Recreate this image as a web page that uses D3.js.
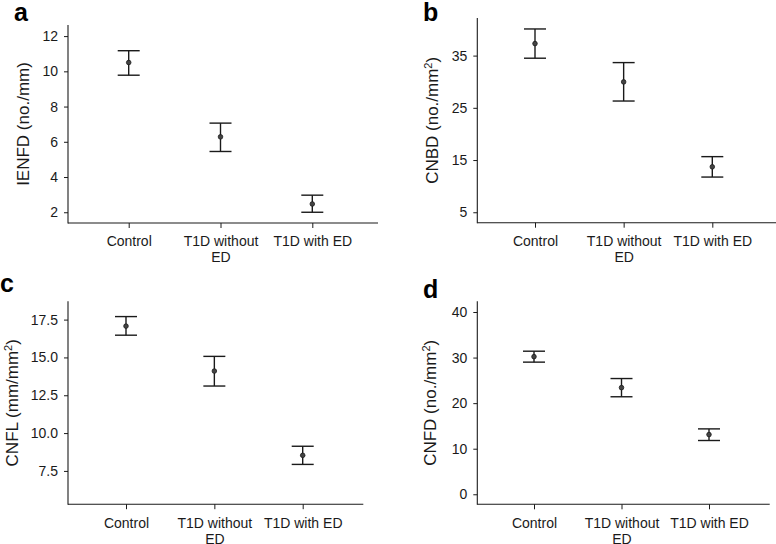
<!DOCTYPE html>
<html>
<head>
<meta charset="utf-8">
<script src="https://cdn.jsdelivr.net/npm/d3@7"></script>
<style>
  html, body { margin: 0; padding: 0; background: #fff; }
  svg { display: block; font-family: "Liberation Sans", Arial, Helvetica, sans-serif; }
</style>
</head>
<body>
<svg id="chart" width="776" height="544"></svg>
<script>
// ---- Data ----
const categories = ["Control", "T1D without ED", "T1D with ED"];
const categoryLines = [["Control"], ["T1D without", "ED"], ["T1D with ED"]];

const ienfdMean = [10.5, 6.28, 2.47];
const ienfdLow  = [9.78, 5.45, 2.0];
const ienfdHigh = [11.17, 7.06, 2.97];
const ienfdTicks = [2, 4, 6, 8, 10, 12];

const cnbdMean = [37.3, 29.96, 13.7];
const cnbdLow  = [34.5, 26.3, 11.74];
const cnbdHigh = [40.1, 33.66, 15.65];
const cnbdTicks = [5, 15, 25, 35];

const cnflMean = [17.07, 14.1, 8.53];
const cnflLow  = [16.47, 13.11, 7.93];
const cnflHigh = [17.7, 15.07, 9.13];
const cnflTicks = [7.5, 10.0, 12.5, 15.0, 17.5];

const cnfdMean = [30.2, 23.4, 13.1];
const cnfdLow  = [29.0, 21.4, 11.8];
const cnfdHigh = [31.4, 25.4, 14.35];
const cnfdTicks = [0, 10, 20, 30, 40];

// ---- Panel layout ----
const panels = [
  { letter: "a", lx: 14, ly: 21, title: ["IENFD (no./mm)"], tx: 23,
    left: 68, right: 378, top: 25, bottom: 223, x0: 128.7, x1: 312.3,
    domain: [1.39, 12.63], ticks: ienfdTicks, fmt: d3.format("d"),
    mean: ienfdMean, lo: ienfdLow, hi: ienfdHigh },
  { letter: "b", lx: 423, ly: 21, title: ["CNBD (no./mm", "2", ")"], tx: 432,
    left: 477.3, right: 776, top: 18, bottom: 222.7, x0: 535, x1: 712.3,
    domain: [3.0, 42.2], ticks: cnbdTicks, fmt: d3.format("d"),
    mean: cnbdMean, lo: cnbdLow, hi: cnbdHigh },
  { letter: "c", lx: 0, ly: 292, title: ["CNFL (mm/mm", "2", ")"], tx: 12,
    left: 68, right: 363.3, top: 301.3, bottom: 504.2, x0: 126, x1: 302.7,
    domain: [5.3, 18.71], ticks: cnflTicks, fmt: d3.format(".1f"),
    mean: cnflMean, lo: cnflLow, hi: cnflHigh },
  { letter: "d", lx: 423, ly: 298, title: ["CNFD (no./mm", "2", ")"], tx: 430,
    left: 477.3, right: 769.7, top: 301.3, bottom: 504.3, x0: 534, x1: 709,
    domain: [-2.2, 42.35], ticks: cnfdTicks, fmt: d3.format("d"),
    mean: cnfdMean, lo: cnfdLow, hi: cnfdHigh }
];

const svg = d3.select("#chart");
const ink = "#1a1a1a";
const capHalf = 11;

panels.forEach(p => {
  const g = svg.append("g");
  const x = d3.scalePoint().domain(categories).range([p.x0, p.x1]);
  const y = d3.scaleLinear().domain(p.domain).range([p.bottom, p.top]);

  // Y axis
  const ya = g.append("g").attr("transform", `translate(${p.left},0)`)
    .call(d3.axisLeft(y).tickValues(p.ticks).tickFormat(p.fmt).tickSize(4).tickPadding(6));
  ya.select(".domain").remove();
  ya.selectAll(".tick line").attr("stroke", ink).attr("stroke-width", 1);
  ya.selectAll(".tick text").attr("fill", ink).attr("font-size", 14)
    .attr("font-family", "Liberation Sans, Arial, sans-serif");

  // X axis
  const xa = g.append("g").attr("transform", `translate(0,${p.bottom})`)
    .call(d3.axisBottom(x).tickSize(5).tickPadding(8.5));
  xa.select(".domain").remove();
  xa.selectAll(".tick line").attr("stroke", ink).attr("stroke-width", 1);
  xa.selectAll(".tick text").each(function(d, i) {
    const t = d3.select(this).text(null).attr("fill", ink).attr("font-size", 14)
      .attr("font-family", "Liberation Sans, Arial, sans-serif");
    categoryLines[i].forEach((ln, k) => {
      t.append("tspan").attr("x", 0).attr("dy", k === 0 ? "0.71em" : "1.14em").text(ln);
    });
  });

  // Axis lines
  g.append("line").attr("x1", p.left).attr("x2", p.left).attr("y1", p.top).attr("y2", p.bottom + 0.5)
    .attr("stroke", ink).attr("stroke-width", 1.1);
  g.append("line").attr("x1", p.left).attr("x2", p.right).attr("y1", p.bottom).attr("y2", p.bottom)
    .attr("stroke", ink).attr("stroke-width", 1.1);

  // Error bars
  const rows = categories.map((c, i) => ({ c, m: p.mean[i], lo: p.lo[i], hi: p.hi[i] }));
  const eb = g.append("g").attr("stroke", ink).attr("stroke-width", 1.4).attr("fill", "none");
  eb.selectAll("line.v").data(rows).join("line").attr("class", "v")
    .attr("x1", d => x(d.c)).attr("x2", d => x(d.c))
    .attr("y1", d => y(d.lo)).attr("y2", d => y(d.hi));
  eb.selectAll("line.hi").data(rows).join("line").attr("class", "hi")
    .attr("x1", d => x(d.c) - capHalf).attr("x2", d => x(d.c) + capHalf)
    .attr("y1", d => y(d.hi)).attr("y2", d => y(d.hi));
  eb.selectAll("line.lo").data(rows).join("line").attr("class", "lo")
    .attr("x1", d => x(d.c) - capHalf).attr("x2", d => x(d.c) + capHalf)
    .attr("y1", d => y(d.lo)).attr("y2", d => y(d.lo));

  // Points
  g.selectAll("circle").data(rows).join("circle")
    .attr("cx", d => x(d.c)).attr("cy", d => y(d.m)).attr("r", 2.3)
    .attr("fill", "#444").attr("stroke", ink).attr("stroke-width", 0.8);

  // Y title
  const cy = (p.top + p.bottom) / 2;
  const tt = g.append("text")
    .attr("transform", `translate(${p.tx},${cy}) rotate(-90)`)
    .attr("text-anchor", "middle").attr("dy", "0.35em")
    .attr("font-size", 17).attr("fill", ink);
  tt.append("tspan").text(p.title[0]);
  if (p.title.length > 1) {
    tt.append("tspan").attr("font-size", 11).attr("dy", "-0.55em").text(p.title[1]);
    tt.append("tspan").attr("dy", "0.38em").text(p.title[2]);
  }

  // Panel letter
  g.append("text").attr("x", p.lx).attr("y", p.ly)
    .attr("font-size", 25).attr("font-weight", "bold").attr("fill", "#000")
    .text(p.letter);
});
</script>
</body>
</html>
